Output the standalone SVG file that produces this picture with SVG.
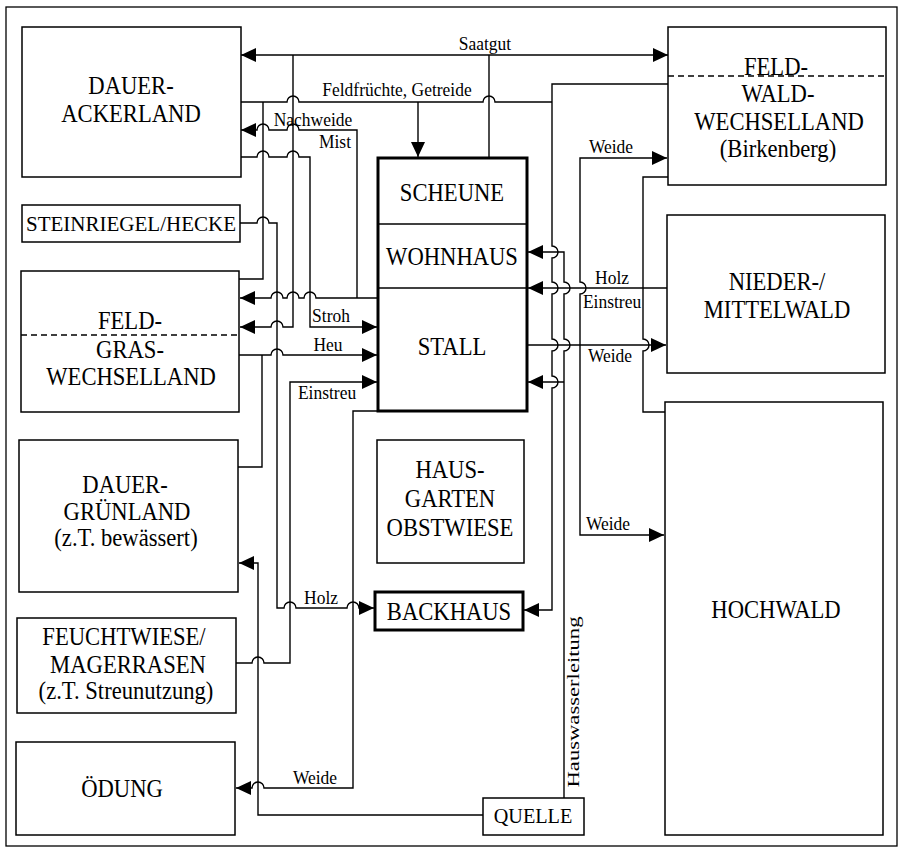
<svg xmlns="http://www.w3.org/2000/svg" width="903" height="852" viewBox="0 0 903 852">
<style>
.box{fill:#fff;stroke:#000;stroke-width:1.5}
.thick{fill:#fff;stroke:#000;stroke-width:3}
.div{stroke:#000;stroke-width:1.5;fill:none}
.dash{stroke:#000;stroke-width:1.3;stroke-dasharray:6 4;fill:none}
.t{font-family:"Liberation Serif","Times New Roman",serif;font-size:26px;text-anchor:middle;fill:#000}
.s{font-family:"Liberation Serif","Times New Roman",serif;font-size:19px;text-anchor:middle;fill:#000}
.c path{fill:none;stroke:#000;stroke-width:1.4}
</style>
<defs>
<marker id="a" markerUnits="userSpaceOnUse" markerWidth="16" markerHeight="14" refX="15" refY="7" orient="auto-start-reverse" viewBox="0 0 16 14">
<path d="M0,0 L15,7 L0,14 z" fill="#000"/>
</marker>
</defs>
<rect x="0" y="0" width="903" height="852" fill="#fff"/>
<rect x="6" y="7" width="891" height="839" fill="none" stroke="#000" stroke-width="1.3"/>

<g class="c" id="connectors">
<path d="M241 55 H668" marker-start="url(#a)" marker-end="url(#a)"/>
<path d="M293 55 V327 H283 A6 6 0 0 0 271 327 H240" marker-end="url(#a)"/>
<path d="M489 55 V158"/>
<path d="M241 102 H287 A6 6 0 0 1 299 102 H483 A6 6 0 0 1 495 102 H552"/>
<path d="M418 102 V157" marker-end="url(#a)"/>
<path d="M239 279 H263 V102"/>
<path d="M241 130 H257 A6 6 0 0 1 269 130 H287 A6 6 0 0 1 299 130 H357 V298" marker-start="url(#a)"/>
<path d="M240 298 H271 A6 6 0 0 1 283 298 H287 A6 6 0 0 1 299 298 H304 A6 6 0 0 1 316 298 H377" marker-start="url(#a)"/>
<path d="M241 157 H257 A6 6 0 0 1 269 157 H287 A6 6 0 0 1 299 157 H310 V327 H377" marker-end="url(#a)"/>
<path d="M240 223 H257 A6 6 0 0 1 269 223 H277 V608 H284 A6 6 0 0 1 296 608 H347 A6 6 0 0 1 359 608 H374" marker-end="url(#a)"/>
<path d="M239 355 H271 A6 6 0 0 1 283 355 H377" marker-end="url(#a)"/>
<path d="M238 467 H262 V355"/>
<path d="M236 663 H252 A6 6 0 0 1 264 663 H290 V382 H377" marker-end="url(#a)"/>
<path d="M378 411 H353 V788 H264 A6 6 0 0 0 252 788 H236" marker-end="url(#a)"/>
<path d="M483 815 H258 V563 H239" marker-end="url(#a)"/>
<path d="M564 798 V351 A6 6 0 0 0 564 339 V294 A6 6 0 0 0 564 282 V252 H528" marker-end="url(#a)"/>
<path d="M564 382 H528" marker-end="url(#a)"/>
<path d="M668 84 H552 V246 A6 6 0 0 1 552 258 V282 A6 6 0 0 1 552 294 V339 A6 6 0 0 1 552 351 V376 A6 6 0 0 1 552 388 V610 H524" marker-end="url(#a)"/>
<path d="M667 288 H528" marker-end="url(#a)"/>
<path d="M527 345 H666" marker-end="url(#a)"/>
<path d="M667 158 H580 V282 A6 6 0 0 1 580 294 V535 H664" marker-start="url(#a)" marker-end="url(#a)"/>
<path d="M668 177 H643 V339 A6 6 0 0 1 643 351 V412 H665"/>
</g>

<g id="labels">
<text class="s" transform="translate(485 50) scale(0.92 1)">Saatgut</text>
<text class="s" transform="translate(397 96) scale(0.92 1)">Feldfrüchte, Getreide</text>
<text class="s" transform="translate(313 126) scale(0.92 1)">Nachweide</text>
<text class="s" transform="translate(335 148) scale(0.92 1)">Mist</text>
<text class="s" transform="translate(331 322) scale(0.92 1)">Stroh</text>
<text class="s" transform="translate(328 351) scale(0.92 1)">Heu</text>
<text class="s" transform="translate(327 399) scale(0.92 1)">Einstreu</text>
<text class="s" transform="translate(321 604) scale(0.92 1)">Holz</text>
<text class="s" transform="translate(315 784) scale(0.92 1)">Weide</text>
<text class="s" transform="translate(611 153) scale(0.92 1)">Weide</text>
<text class="s" transform="translate(612 284) scale(0.92 1)">Holz</text>
<text class="s" transform="translate(612 308) scale(0.92 1)">Einstreu</text>
<text class="s" transform="translate(610 362) scale(0.92 1)">Weide</text>
<text class="s" transform="translate(608 530) scale(0.92 1)">Weide</text>
<text class="s" style="font-size:17px" transform="translate(579 702) rotate(-90)" textLength="171" lengthAdjust="spacingAndGlyphs">Hauswasserleitung</text>
</g>

<g id="n-dauer-ackerland">
<rect class="box" x="22" y="27" width="219" height="150"/>
<text class="t" transform="translate(131 94) scale(0.87 1)">DAUER-</text>
<text class="t" transform="translate(131 122) scale(0.87 1)">ACKERLAND</text>
</g>
<g id="n-steinriegel">
<rect class="box" x="22" y="205" width="218" height="37"/>
<text class="t" style="font-size:21px" transform="translate(131 231)">STEINRIEGEL/HECKE</text>
</g>
<g id="n-feldgras">
<rect class="box" x="21" y="271" width="218" height="141"/>
<line class="dash" x1="21" y1="335" x2="239" y2="335"/>
<text class="t" transform="translate(130 329) scale(0.87 1)">FELD-</text>
<text class="t" transform="translate(130 358) scale(0.87 1)">GRAS-</text>
<text class="t" transform="translate(131 385) scale(0.87 1)">WECHSELLAND</text>
</g>
<g id="n-dauergruenland">
<rect class="box" x="19" y="440" width="219" height="152"/>
<text class="t" transform="translate(125 493) scale(0.87 1)">DAUER-</text>
<text class="t" transform="translate(127 520) scale(0.87 1)">GRÜNLAND</text>
<text class="t" transform="translate(126 546) scale(0.87 1)">(z.T. bewässert)</text>
</g>
<g id="n-feuchtwiese">
<rect class="box" x="17" y="618" width="219" height="95"/>
<text class="t" transform="translate(124 645) scale(0.87 1)">FEUCHTWIESE/</text>
<text class="t" transform="translate(128 673) scale(0.87 1)">MAGERRASEN</text>
<text class="t" transform="translate(126 699) scale(0.87 1)">(z.T. Streunutzung)</text>
</g>
<g id="n-oedung">
<rect class="box" x="16" y="742" width="219" height="93"/>
<text class="t" transform="translate(122 797) scale(0.87 1)">ÖDUNG</text>
</g>
<g id="n-hof">
<rect class="thick" x="378" y="158" width="149" height="253"/>
<line class="div" x1="378" y1="224" x2="527" y2="224"/>
<line class="div" x1="378" y1="288" x2="527" y2="288"/>
<text class="t" transform="translate(452 201) scale(0.87 1)">SCHEUNE</text>
<text class="t" transform="translate(452 265) scale(0.87 1)">WOHNHAUS</text>
<text class="t" transform="translate(452 355) scale(0.87 1)">STALL</text>
</g>
<g id="n-hausgarten">
<rect class="box" x="377" y="440" width="147" height="123"/>
<text class="t" transform="translate(450 478) scale(0.87 1)">HAUS-</text>
<text class="t" transform="translate(450 507) scale(0.87 1)">GARTEN</text>
<text class="t" transform="translate(450 536) scale(0.87 1)">OBSTWIESE</text>
</g>
<g id="n-backhaus">
<rect class="thick" x="375" y="592" width="148" height="38"/>
<text class="t" transform="translate(449 620) scale(0.87 1)">BACKHAUS</text>
</g>
<g id="n-quelle">
<rect class="box" x="483" y="798" width="101" height="37"/>
<text class="t" style="font-size:22px" transform="translate(533 823) scale(0.92 1)">QUELLE</text>
</g>
<g id="n-feldwald">
<rect class="box" x="668" y="27" width="218" height="158"/>
<line class="dash" x1="668" y1="76" x2="886" y2="76"/>
<text class="t" transform="translate(776 75) scale(0.87 1)">FELD-</text>
<text class="t" transform="translate(778 102) scale(0.87 1)">WALD-</text>
<text class="t" transform="translate(779 130) scale(0.87 1)">WECHSELLAND</text>
<text class="t" transform="translate(778 157) scale(0.87 1)">(Birkenberg)</text>
</g>
<g id="n-niedermittelwald">
<rect class="box" x="667" y="215" width="218" height="158"/>
<text class="t" transform="translate(777 290) scale(0.87 1)">NIEDER-/</text>
<text class="t" transform="translate(777 318) scale(0.87 1)">MITTELWALD</text>
</g>
<g id="n-hochwald">
<rect class="box" x="665" y="402" width="218" height="433"/>
<text class="t" transform="translate(776 618) scale(0.87 1)">HOCHWALD</text>
</g>
</svg>
